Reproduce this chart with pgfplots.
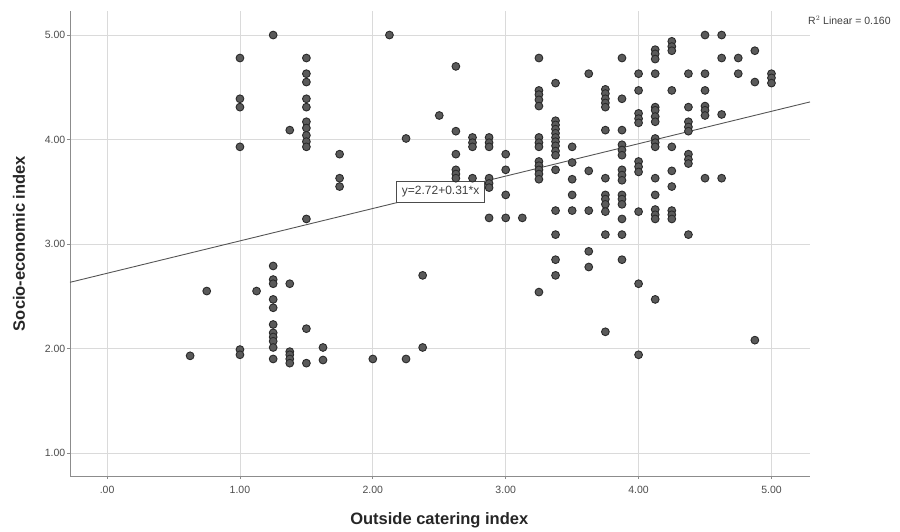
\documentclass[border=0pt]{standalone}
\usepackage{fontspec}
\setmainfont{Liberation Sans}
\usepackage{pgfplots}
\pgfplotsset{compat=1.18}
\definecolor{gridc}{HTML}{DADADA}
\definecolor{axc}{HTML}{8C8C8C}
\definecolor{ptfill}{HTML}{5A5A5A}
\definecolor{ptdraw}{HTML}{2A2A2A}
\definecolor{linec}{HTML}{555555}
\begin{document}
\begin{tikzpicture}[x=1pt,y=1pt]
\useasboundingbox (0,0) rectangle (900,531);
\begin{axis}[
  at={(70pt,55pt)}, anchor=south west,
  scale only axis, width=740pt, height=465pt,
  xmin=-0.279, xmax=5.29, ymin=0.78, ymax=5.23,
  axis lines*=left,
  axis line style={draw=axc, line width=0.8pt, -},
  xtick={0,1,2,3,4,5}, xticklabels={.00,1.00,2.00,3.00,4.00,5.00},
  ytick={1,2,3,4,5}, yticklabels={1.00,2.00,3.00,4.00,5.00},
  grid=major, grid style={draw=gridc, line width=0.8pt},
  tick align=outside, major tick length=3pt,
  tick style={draw=axc, line width=0.8pt},
  ticklabel style={font=\fontsize{10.5}{12}\selectfont, text=black!70},
  yticklabel style={anchor=east, inner sep=0pt, xshift=-1.5pt},
  xticklabel style={anchor=north, inner sep=0pt, yshift=-6.5pt},
  xlabel={Outside catering index},
  ylabel={Socio-economic index},
  label style={font=\fontsize{16.5}{19}\selectfont\bfseries, text=black!85},
  xlabel style={at={(axis description cs:0.499,-0.0946)}, anchor=center},
  ylabel style={at={(axis description cs:-0.069,0.50)}, anchor=center},
  clip=false,
]
\addplot[only marks, mark=*, mark size=3.9pt,
  mark options={fill=ptfill, draw=ptdraw, line width=0.9pt}]
  table[row sep=\\] {
x y\\
0.625 1.93\\
0.75 2.55\\
1.0 4.78\\ 1.0 4.39\\ 1.0 4.31\\ 1.0 3.93\\ 1.0 1.99\\ 1.0 1.94\\
1.125 2.55\\
1.25 5.00\\ 1.25 2.79\\ 1.25 2.66\\ 1.25 2.62\\ 1.25 2.47\\ 1.25 2.39\\ 1.25 2.23\\ 1.25 2.15\\ 1.25 2.11\\ 1.25 2.07\\ 1.25 2.01\\ 1.25 1.90\\
1.375 4.09\\ 1.375 2.62\\ 1.375 1.97\\ 1.375 1.94\\ 1.375 1.90\\ 1.375 1.86\\
1.5 4.78\\ 1.5 4.63\\ 1.5 4.55\\ 1.5 4.39\\ 1.5 4.31\\ 1.5 4.17\\ 1.5 4.11\\ 1.5 4.04\\ 1.5 3.98\\ 1.5 3.93\\ 1.5 3.24\\ 1.5 2.19\\ 1.5 1.86\\
1.625 2.01\\ 1.625 1.89\\
1.75 3.86\\ 1.75 3.63\\ 1.75 3.55\\
2.0 1.90\\
2.125 5.00\\
2.25 4.01\\ 2.25 1.90\\
2.375 2.70\\ 2.375 2.01\\
2.5 4.23\\
2.625 4.70\\ 2.625 4.08\\ 2.625 3.86\\ 2.625 3.71\\ 2.625 3.67\\ 2.625 3.63\\
2.75 4.02\\ 2.75 3.97\\ 2.75 3.93\\ 2.75 3.63\\
2.875 4.02\\ 2.875 3.97\\ 2.875 3.93\\ 2.875 3.63\\ 2.875 3.58\\ 2.875 3.54\\ 2.875 3.25\\
3.0 3.86\\ 3.0 3.71\\ 3.0 3.47\\ 3.0 3.25\\
3.125 3.25\\
3.25 4.78\\ 3.25 4.47\\ 3.25 4.43\\ 3.25 4.38\\ 3.25 4.32\\ 3.25 4.02\\ 3.25 3.97\\ 3.25 3.93\\ 3.25 3.79\\ 3.25 3.75\\ 3.25 3.71\\ 3.25 3.67\\ 3.25 3.62\\ 3.25 2.54\\
3.375 4.54\\ 3.375 4.18\\ 3.375 4.14\\ 3.375 4.10\\ 3.375 4.06\\ 3.375 4.02\\ 3.375 3.98\\ 3.375 3.94\\ 3.375 3.89\\ 3.375 3.85\\ 3.375 3.71\\ 3.375 3.32\\ 3.375 3.09\\ 3.375 2.85\\ 3.375 2.70\\
3.5 3.93\\ 3.5 3.78\\ 3.5 3.62\\ 3.5 3.47\\ 3.5 3.32\\
3.625 4.63\\ 3.625 3.70\\ 3.625 3.32\\ 3.625 2.93\\ 3.625 2.78\\
3.75 4.48\\ 3.75 4.44\\ 3.75 4.39\\ 3.75 4.35\\ 3.75 4.31\\ 3.75 4.09\\ 3.75 3.63\\ 3.75 3.47\\ 3.75 3.43\\ 3.75 3.38\\ 3.75 3.31\\ 3.75 3.09\\ 3.75 2.16\\
3.875 4.78\\ 3.875 4.39\\ 3.875 4.09\\ 3.875 3.95\\ 3.875 3.90\\ 3.875 3.85\\ 3.875 3.71\\ 3.875 3.66\\ 3.875 3.61\\ 3.875 3.47\\ 3.875 3.43\\ 3.875 3.38\\ 3.875 3.24\\ 3.875 3.09\\ 3.875 2.85\\
4.0 4.63\\ 4.0 4.47\\ 4.0 4.25\\ 4.0 4.20\\ 4.0 4.16\\ 4.0 3.79\\ 4.0 3.74\\ 4.0 3.69\\ 4.0 3.31\\ 4.0 2.62\\ 4.0 1.94\\
4.125 4.86\\ 4.125 4.82\\ 4.125 4.77\\ 4.125 4.63\\ 4.125 4.31\\ 4.125 4.28\\ 4.125 4.22\\ 4.125 4.17\\ 4.125 4.01\\ 4.125 3.97\\ 4.125 3.93\\ 4.125 3.63\\ 4.125 3.47\\ 4.125 3.33\\ 4.125 3.28\\ 4.125 3.24\\ 4.125 2.47\\
4.25 4.94\\ 4.25 4.89\\ 4.25 4.85\\ 4.25 4.47\\ 4.25 3.93\\ 4.25 3.70\\ 4.25 3.55\\ 4.25 3.32\\ 4.25 3.28\\ 4.25 3.24\\
4.375 4.63\\ 4.375 4.31\\ 4.375 4.17\\ 4.375 4.12\\ 4.375 4.08\\ 4.375 3.86\\ 4.375 3.81\\ 4.375 3.77\\ 4.375 3.09\\
4.5 5.00\\ 4.5 4.63\\ 4.5 4.47\\ 4.5 4.32\\ 4.5 4.28\\ 4.5 4.23\\ 4.5 3.63\\
4.625 5.00\\ 4.625 4.78\\ 4.625 4.24\\ 4.625 3.63\\
4.75 4.78\\ 4.75 4.63\\
4.875 4.85\\ 4.875 4.55\\ 4.875 2.08\\
5.0 4.63\\ 5.0 4.59\\ 5.0 4.54\\
};
\addplot[draw=linec, line width=0.9pt, mark=none] coordinates {(-0.279,2.6335) (5.29,4.3599)};
\node[draw=black!70, fill=white, line width=0.6pt, font=\fontsize{12}{14}\selectfont,
  text=black!75, minimum width=88pt, minimum height=21pt, inner sep=1pt]
  at (axis cs:2.51,3.50) {y=2.72+0.31*x};
\end{axis}
\node[anchor=west, inner sep=0pt, font=\fontsize{10.5}{12}\selectfont, text=black!75] at (808,511) {R$^2$ Linear = 0.160};
\end{tikzpicture}
\end{document}
